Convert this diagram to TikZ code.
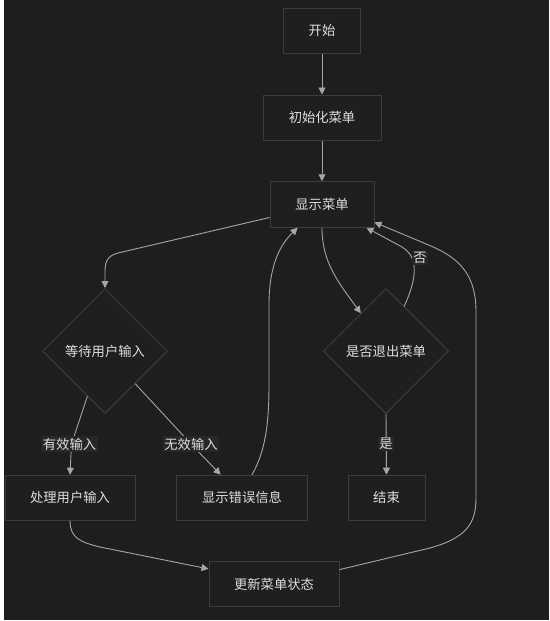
\documentclass[tikz,border=0pt]{standalone}
\usepackage{fontspec}
\setmainfont{Noto Sans CJK SC}
\usetikzlibrary{arrows.meta,shapes.geometric,calc}

\definecolor{canvas}{HTML}{1E1E1E}
\definecolor{boxfill}{HTML}{1F1F1F}
\definecolor{boxline}{HTML}{3C3C3C}
\definecolor{inktext}{HTML}{DEDEDE}
\definecolor{wire}{HTML}{A6A6A6}
\definecolor{tagfill}{HTML}{272727}

\tikzset{
  stepbox/.style={draw=boxline, fill=boxfill, line width=1pt, minimum height=45pt,
    inner sep=0pt, text=inktext, font=\fontsize{13.3}{16}\selectfont},
  choice/.style={draw=boxline, fill=boxfill, line width=1pt, shape=diamond,
    minimum width=125pt, minimum height=125pt, inner sep=0pt, text=inktext,
    font=\fontsize{13.3}{16}\selectfont},
  flow/.style={draw=wire, line width=0.9pt, -{Triangle[length=7pt,width=7pt]}},
  tag/.style={fill=tagfill, text=inktext, inner sep=1.5pt,
    font=\fontsize{13.3}{16}\selectfont},
}

\begin{document}
\begin{tikzpicture}[x=1pt,y=-1pt]
  \useasboundingbox (0,0) rectangle (549,621);
  \fill[canvas] (0,0) rectangle (549,621);
  \fill[white] (0,0) rectangle (3.5,621);
  \fill[white] (0,620) rectangle (549,621);

  % process boxes
  \node[stepbox, minimum width=77.7pt] (start) at (322,30.7) {开始};
  \node[stepbox, minimum width=118pt] (init) at (322,117.5) {初始化菜单};
  \node[stepbox, minimum width=104pt, minimum height=45.5pt] (show) at (322,204.5) {显示菜单};
  \node[choice] (wait) at (105,351) {等待用户输入};
  \node[choice] (quit) at (386,351) {是否退出菜单};
  \node[stepbox, minimum width=130pt] (proc) at (70,497.7) {处理用户输入};
  \node[stepbox, minimum width=131pt] (err) at (242,497.7) {显示错误信息};
  \node[stepbox, minimum width=77pt] (end) at (386.5,497.7) {结束};
  \node[stepbox, minimum width=130pt] (upd) at (274,584.3) {更新菜单状态};

  % connectors
  \draw[flow] (start.south) -- (init.north);
  \draw[flow] (init.south) -- (show.north);

  \draw[flow] ([yshift=-13pt]show.west) -- (118,253)
      .. controls (107,256) and (105,262) .. (105,272) -- (wait.north);

  \coordinate (quitin) at ($(quit.west)!0.6!(quit.north)$);
  \draw[flow] (show.south) .. controls (322,262) and (338,282) .. (quitin);

  \coordinate (quitout) at ($(quit.north)!0.29!(quit.east)$);
  \draw[flow] (quitout) .. controls (416,280) and (420,258) .. (402,247)
      -- ([xshift=-8pt]show.south east);
  \node[tag] (no) at (420,258) {否};

  \draw[flow] (quit.south) -- (end.north);
  \node[tag] (yes) at (386,444) {是};

  \coordinate (waitl) at ($(wait.south)!0.28!(wait.west)$);
  \draw[flow] (waitl) -- (71.5,444) -- (proc.north);
  \node[tag] (valid) at (69.5,444) {有效输入};

  \coordinate (waitr) at ($(wait.south)!0.48!(wait.east)$);
  \draw[flow] (waitr) -- (191,444) -- ([xshift=-21.4pt]err.north);
  \node[tag] (invalid) at (191,444) {无效输入};

  \draw[flow] ([xshift=10pt]err.north) .. controls (265,452) and (269,425) .. (269,385)
      -- (269,305) .. controls (269,262) and (282,243) .. ([xshift=-24.4pt]show.south);

  \draw[flow] (proc.south) .. controls (70,538) and (80,542) .. (100,547)
      -- ([yshift=-7.6pt]upd.north west);

  \draw[flow] ([yshift=-8.3pt]upd.north east) -- (430,548)
      .. controls (465,538) and (476,525) .. (476,498) -- (476,312)
      .. controls (476,276) and (461,259) .. (431,246) -- ([yshift=-17.8pt]show.east);
\end{tikzpicture}
\end{document}
